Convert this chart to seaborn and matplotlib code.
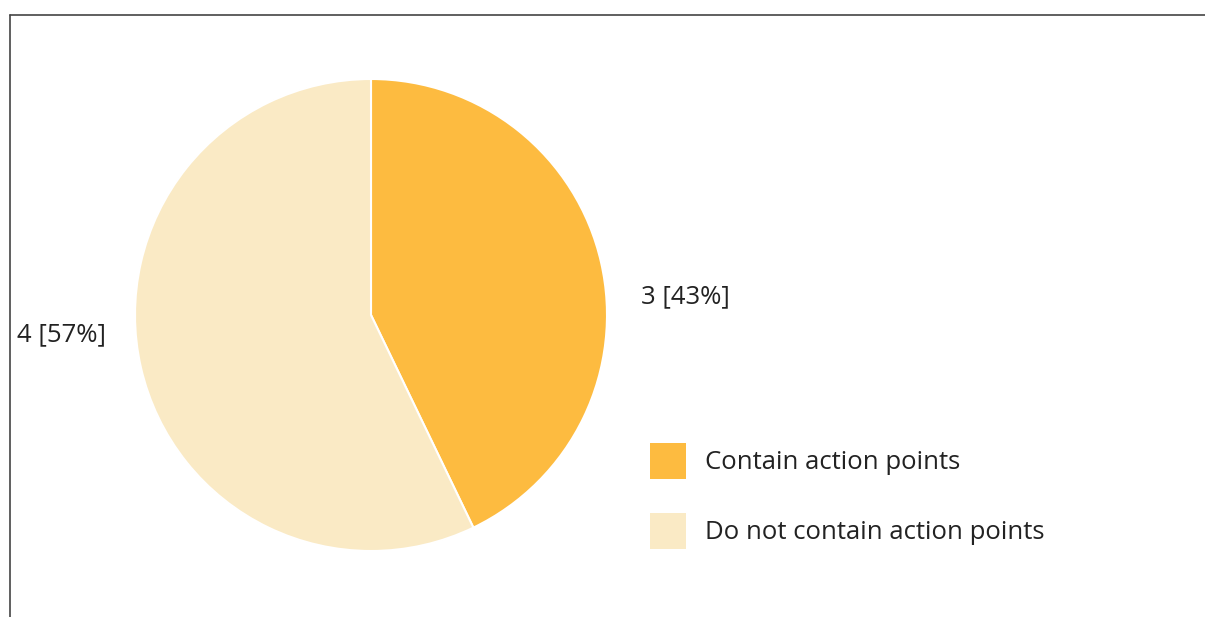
import matplotlib
matplotlib.use("Agg")
import matplotlib.pyplot as plt
from matplotlib.patches import Patch
from matplotlib.lines import Line2D
import seaborn as sns

# Reports by whether they contain action points
categories = ["Contain action points", "Do not contain action points"]
counts = [3, 4]
colors = ["#FDBB40", "#FAEAC5"]

sns.set_theme(style="white")
plt.rcParams["font.family"] = ["Open Sans", "DejaVu Sans"]

W, H = 1205, 617
FS = 18.5
fig = plt.figure(figsize=(W / 100, H / 100), dpi=100)

# Pie axes: centre (371, 315) px, radius 236 px
cx, cy, r = 371, 315, 236
ax = fig.add_axes([(cx - r) / W, (H - cy - r) / H, 2 * r / W, 2 * r / H])
wedges, _ = ax.pie(counts, colors=colors, startangle=90, counterclock=False,
                   radius=1, wedgeprops=dict(edgecolor="white", linewidth=1.5))
ax.set_xlim(-1, 1)
ax.set_ylim(-1, 1)
ax.set_aspect("equal")
ax.axis("off")

total = sum(counts)
labels = [f"{c} [{round(100 * c / total)}%]" for c in counts]
ax.text(1.142, 0.077, labels[0], ha="left", va="center", fontsize=FS, color="#222222")
ax.text(-1.123, -0.085, labels[1], ha="right", va="center", fontsize=FS, color="#222222")

# Legend with 36 px square swatches
fs_px = FS * 100 / 72
swatch = 36 / fs_px
# matplotlib trims the handle box by 0.35*fs*(handleheight-0.7)
hh = (swatch - 0.245) / 0.65
handles = [Patch(facecolor=c, edgecolor="none") for c in colors]
fig.legend(handles, categories, loc="upper left",
           bbox_to_anchor=(650 / W, 1 - 443 / H), frameon=False,
           fontsize=FS, handlelength=swatch, handleheight=hh,
           labelspacing=34 / fs_px, handletextpad=19 / fs_px,
           borderpad=0, borderaxespad=0, labelcolor="#222222")

# Frame lines along the top and left edges
fig.add_artist(Line2D([9.5 / W, 1], [1 - 14.5 / H, 1 - 14.5 / H], color="#444444", linewidth=1.2,
                      transform=fig.transFigure))
fig.add_artist(Line2D([9.5 / W, 9.5 / W], [0, 1 - 14.5 / H], color="#444444", linewidth=1.2,
                      transform=fig.transFigure))

fig.savefig("out.png", dpi=100, facecolor="white")
